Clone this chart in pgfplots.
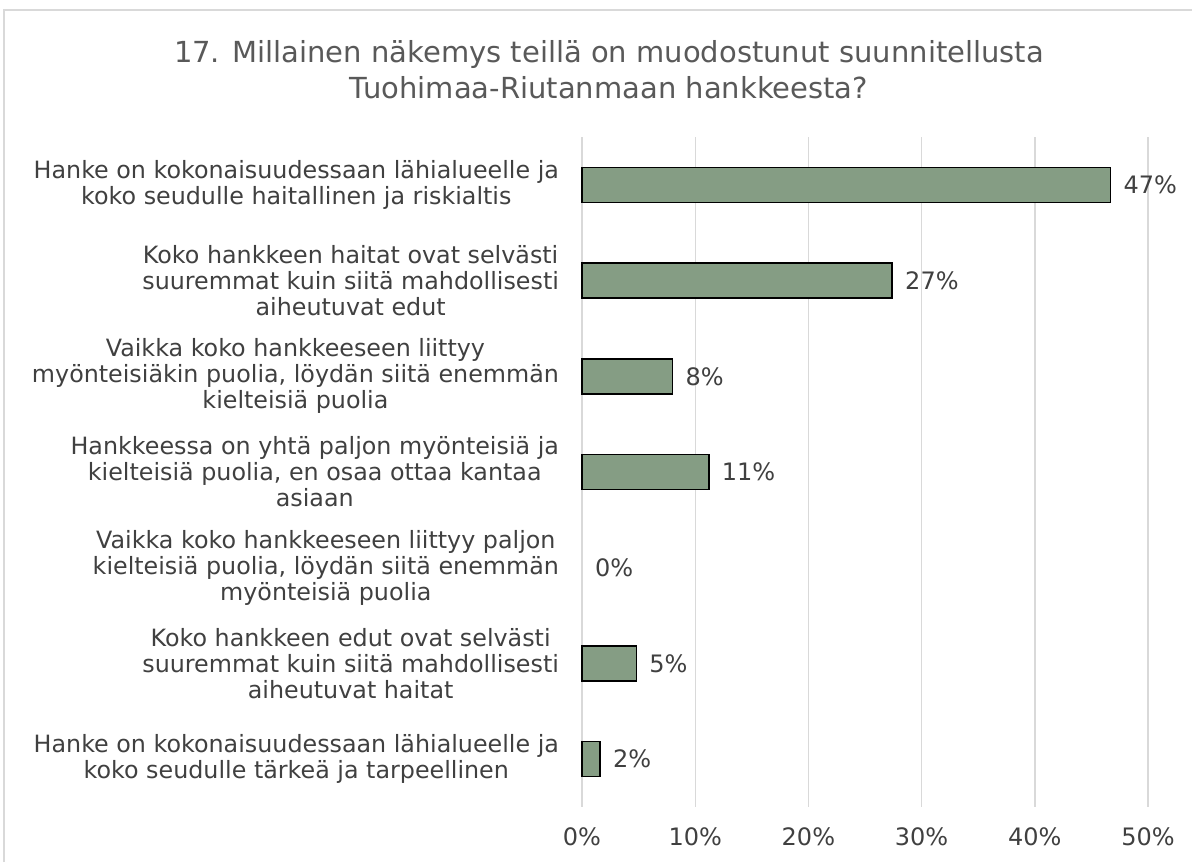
\documentclass[border=0pt]{standalone}
\usepackage{pgfplots}
\pgfplotsset{compat=1.18}
\usepackage{pgfplotstable}
\usepackage{fontspec}
\setmainfont{DejaVu Sans}
\definecolor{barcol}{HTML}{859D84}
\definecolor{gridcol}{HTML}{D9D9D9}
\definecolor{txtcol}{HTML}{404040}
\definecolor{titlecol}{HTML}{595959}
\definecolor{bordercol}{HTML}{D9D9D9}
\pgfplotstableread{
y v
0 46.7
1 27.4
2 8.0
3 11.2
4 0
5 4.8
6 1.6
}\data
\begin{document}
\begin{tikzpicture}
\path[use as bounding box] (0,0) rectangle (596pt,431pt);
\draw[bordercol, line width=0.6pt] (2pt,0) -- (2pt,426pt) -- (600pt,426pt);
\node[align=center, font=\fontsize{14.5}{18}\selectfont, text=titlecol] at (304.5pt,396pt)
  {17. Millainen näkemys teillä on muodostunut suunnitellusta\\Tuohimaa-Riutanmaan hankkeesta?};
\begin{axis}[
  at={(291pt,27.5pt)}, anchor=south west,
  scale only axis, width=283pt, height=335pt,
  xmin=0, xmax=50, ymin=-0.5, ymax=6.5, y dir=reverse,
  xtick={0,10,...,50},
  xticklabels={0\%,10\%,20\%,30\%,40\%,50\%},
  ytick={0,...,6},
  yticklabels={
    {Hanke on kokonaisuudessaan lähialueelle ja\\koko seudulle haitallinen ja riskialtis},
    {Koko hankkeen haitat ovat selvästi\\suuremmat kuin siitä mahdollisesti\\aiheutuvat edut},
    {Vaikka koko hankkeeseen liittyy\\myönteisiäkin puolia, löydän siitä enemmän\\kielteisiä puolia},
    {Hankkeessa on yhtä paljon myönteisiä ja\\kielteisiä puolia, en osaa ottaa kantaa\\asiaan},
    {Vaikka koko hankkeeseen liittyy paljon\\kielteisiä puolia, löydän siitä enemmän\\myönteisiä puolia},
    {Koko hankkeen edut ovat selvästi\\suuremmat kuin siitä mahdollisesti\\aiheutuvat haitat},
    {Hanke on kokonaisuudessaan lähialueelle ja\\koko seudulle tärkeä ja tarpeellinen}},
  yticklabel style={align=center, font=\fontsize{11.9}{13}\selectfont, text=txtcol, anchor=east, xshift=-8pt},
  xticklabel style={font=\fontsize{12}{13}\selectfont, text=txtcol, yshift=-7pt},
  axis line style={draw=none},
  major tick length=0pt,
  xmajorgrids, grid style={draw=gridcol, line width=0.7pt},
  clip=false,
]
\addplot[xbar, bar width=0.366, fill=barcol, draw=black, line width=0.8pt,
  x filter/.expression={x==0 ? nan : x}]
  table[x=v, y=y] {\data};
\addplot[draw=none, mark=none, nodes near coords={\pgfmathprintnumber[fixed, precision=0, assume math mode=true]{\pgfplotspointmeta}\%},
  point meta=x,
  every node near coord/.style={anchor=west, xshift=3pt, font=\fontsize{12}{13}\selectfont, text=txtcol}]
  table[x=v, y=y] {\data};
\end{axis}
\end{tikzpicture}
\end{document}
